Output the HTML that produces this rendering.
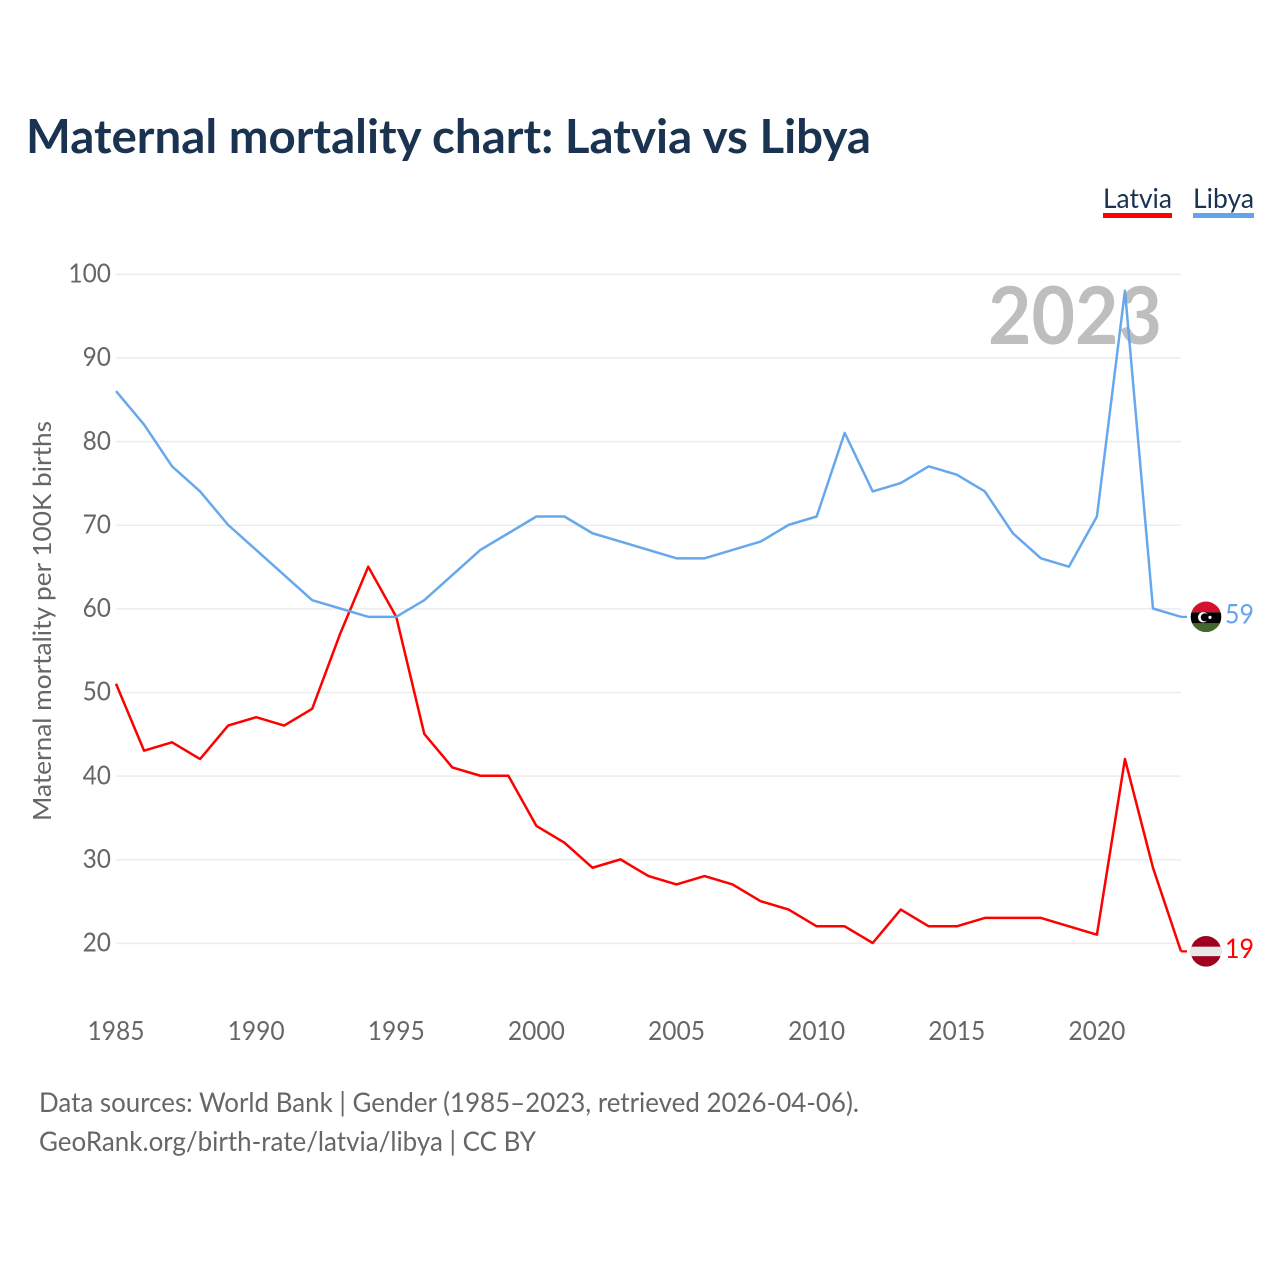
<!DOCTYPE html>
<html lang="en">
<head>
<meta charset="utf-8">
<title>Maternal mortality chart: Latvia vs Libya</title>
<style>
html,body{margin:0;padding:0;background:#fff;width:1280px;height:1280px;overflow:hidden}
svg{display:block}
text{font-family:"Lato","Carlito","Liberation Sans",sans-serif}
</style>
</head>
<body>
<svg id="chart" xmlns="http://www.w3.org/2000/svg" width="1280" height="1280" viewBox="0 0 1280 1280">
  <rect x="0" y="0" width="1280" height="1280" fill="#fff"/>
  <text x="26" y="153" font-size="47" font-weight="700" fill="#1a3350" textLength="845" lengthAdjust="spacingAndGlyphs">Maternal mortality chart: Latvia vs Libya</text>

  <g>
    <text x="1103" y="208" font-size="27" fill="#1a3350" textLength="69" lengthAdjust="spacingAndGlyphs">Latvia</text>
    <rect x="1103" y="213" width="69" height="5" fill="#ff0000"/>
  </g>
  <g>
    <text x="1193" y="208" font-size="27" fill="#1a3350" textLength="61" lengthAdjust="spacingAndGlyphs">Libya</text>
    <rect x="1193" y="213" width="61" height="5" fill="#62a5ec"/>
  </g>

  <g id="grid"></g>
  <g id="yticks"></g>
  <g id="xticks"></g>

  <text transform="translate(51,821) rotate(-90)" x="0" y="0" font-size="25" fill="#666666" textLength="400" lengthAdjust="spacingAndGlyphs">Maternal mortality per 100K births</text>

  <text id="year" x="1162" y="344" text-anchor="end" font-size="80" font-weight="700" fill="#bebebe" textLength="174" lengthAdjust="spacingAndGlyphs">2023</text>

  <g id="series"></g>
  <g id="ends"></g>

  <text x="39" y="1112" font-size="27" fill="#666666" textLength="820" lengthAdjust="spacingAndGlyphs">Data sources: World Bank | Gender (1985–2023, retrieved 2026-04-06).</text>
  <text x="39" y="1151" font-size="27" fill="#666666" textLength="497" lengthAdjust="spacingAndGlyphs">GeoRank.org/birth-rate/latvia/libya | CC BY</text>
</svg>
<script>
const years = [1985,1986,1987,1988,1989,1990,1991,1992,1993,1994,1995,1996,1997,1998,1999,2000,2001,2002,2003,2004,2005,2006,2007,2008,2009,2010,2011,2012,2013,2014,2015,2016,2017,2018,2019,2020,2021,2022,2023];
const latviaValues = [51,43,44,42,46,47,46,48,57,65,59,45,41,40,40,34,32,29,30,28,27,28,27,25,24,22,22,20,24,22,22,23,23,23,22,21,42,29,19];
const libyaValues = [86,82,77,74,70,67,64,61,60,59,59,61,64,67,69,71,71,69,68,67,66,66,67,68,70,71,81,74,75,77,76,74,69,66,65,71,98,60,59];
const yTickValues = [20,30,40,50,60,70,80,90,100];
const xTickValues = [1985,1990,1995,2000,2005,2010,2015,2020];

const NS = 'http://www.w3.org/2000/svg';
const xScale = function (yr) { return 116 + (yr - 1985) * (1181 - 116) / (2023 - 1985); };
const yScale = function (v) { return 943 - (v - 20) * (943 - 274) / (100 - 20); };

function make(tag, parent, attrs, txt) {
  const el = document.createElementNS(NS, tag);
  Object.keys(attrs).forEach(function (k) { el.setAttribute(k, attrs[k]); });
  if (txt !== undefined) el.textContent = txt;
  parent.appendChild(el);
  return el;
}

const grid = document.getElementById('grid');
const yticks = document.getElementById('yticks');
const xticks = document.getElementById('xticks');
const series = document.getElementById('series');
const ends = document.getElementById('ends');

yTickValues.forEach(function (v) {
  const line = make('line', grid, {x1: 116, x2: 1181, y1: yScale(v) + 0.4, y2: yScale(v) + 0.4, stroke: '#ececec', 'stroke-width': 1.5});
  
  
  const s = String(v);
  const label = make('text', yticks, {x: 111, y: yScale(v) + 8.5, 'text-anchor': 'end', 'font-size': 26, fill: '#666666', textLength: s.length * 14.2, lengthAdjust: 'spacingAndGlyphs'}, s);
  
  
});

xTickValues.forEach(function (yr) {
  const s = String(yr);
  const label = make('text', xticks, {x: xScale(yr), y: 1040, 'text-anchor': 'middle', 'font-size': 26, fill: '#666666', textLength: 57, lengthAdjust: 'spacingAndGlyphs'}, s);
  
  
});

function pathFor(values) {
  return values.map(function (v, i) {
    return (i ? 'L' : 'M') + xScale(years[i]).toFixed(2) + ' ' + yScale(v).toFixed(2);
  }).join(' ');
}

const latviaLine = make('path', series, {d: pathFor(latviaValues), fill: 'none', stroke: '#ff0000', 'stroke-width': 2.5, 'stroke-linejoin': 'round'});



const libyaLine = make('path', series, {d: pathFor(libyaValues), fill: 'none', stroke: '#62a5ec', 'stroke-width': 2.5, 'stroke-linejoin': 'round', 'stroke-opacity': 0.97});



function endMarker(values, color) {
  const v = values[values.length - 1];
  const y = yScale(v);
  const link = make('line', ends, {x1: 1181, x2: 1187, y1: y, y2: y, stroke: color, 'stroke-width': 2.2});
  const flag = make('g', ends, {transform: 'translate(1206,' + y + ')'});
  const value = make('text', ends, {x: 1239.5, y: y + 6.5, 'text-anchor': 'middle', 'font-size': 27, fill: color, textLength: 29, lengthAdjust: 'spacingAndGlyphs'}, String(v));
  return {link: link, flag: flag, value: value};
}

const defs = make('defs', ends, {});
const clip = make('clipPath', defs, {id: 'flag-clip'});
make('circle', clip, {cx: 0, cy: 0, r: 15.3});

const lat = endMarker(latviaValues, '#ff0000');






const latClip = make('g', lat.flag, {'clip-path': 'url(#flag-clip)'});
make('rect', latClip, {x: -16, y: -16, width: 32, height: 32, fill: '#a0001f'});
make('rect', latClip, {x: -16, y: -4.7, width: 32, height: 9.5, fill: '#e8e8e8'});

const lib = endMarker(libyaValues, '#62a5ec');






const libClip = make('g', lib.flag, {'clip-path': 'url(#flag-clip)'});
make('rect', libClip, {x: -16, y: -16, width: 32, height: 11.5, fill: '#d5102f'});
make('rect', libClip, {x: -16, y: -4.5, width: 32, height: 11, fill: '#000000'});
make('rect', libClip, {x: -16, y: 6.5, width: 32, height: 10, fill: '#44662f'});
make('circle', libClip, {cx: -2.8, cy: 0.5, r: 5.2, fill: '#ffffff'});
make('circle', libClip, {cx: -1.2, cy: 0.5, r: 4, fill: '#000000'});
make('circle', libClip, {cx: 4, cy: 0.5, r: 1.6, fill: '#ffffff'});
</script>
</body>
</html>
